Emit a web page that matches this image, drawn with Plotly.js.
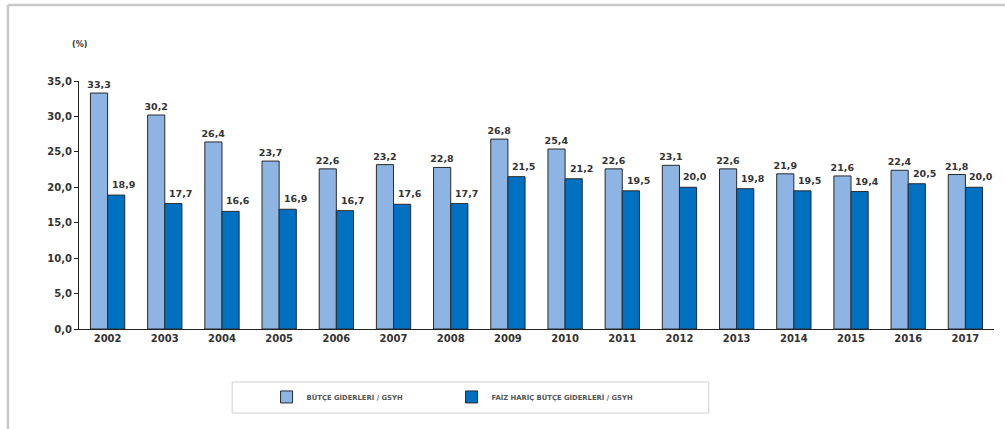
<!DOCTYPE html>
<html>
<head>
<meta charset="utf-8">
<script src="https://cdn.plot.ly/plotly-3.0.1.min.js"></script>
<style>html,body{margin:0;padding:0;background:#fff;}#chart{width:1005px;height:429px;}</style>
</head>
<body>
<div id="chart"></div>
<script>
const years = ['2002','2003','2004','2005','2006','2007','2008','2009','2010','2011','2012','2013','2014','2015','2016','2017'];
const butceGiderleri = [33.3,30.2,26.4,23.7,22.6,23.2,22.8,26.8,25.4,22.6,23.1,22.6,21.9,21.6,22.4,21.8];
const faizHaricGiderler = [18.9,17.7,16.6,16.9,16.7,17.6,17.7,21.5,21.2,19.5,20.0,19.8,19.5,19.4,20.5,20.0];
const seriesNames = ['BÜTÇE GİDERLERİ / GSYH','FAİZ HARİÇ BÜTÇE GİDERLERİ / GSYH'];
const yTicks = [0,5,10,15,20,25,30,35];

const fmt = v => v.toFixed(1).replace('.', ',');
const font = 'DejaVu Sans, Verdana, sans-serif';
const labelFont = {family: font, size: 9.5, color: '#333', weight: 'bold'};

const traces = [
  {type:'bar', name: seriesNames[0], x: years, y: butceGiderleri,
   marker:{color:'#8DB4E2', line:{color:'#2a2a2a', width:1}},
   text: butceGiderleri.map(fmt), textposition:'outside', constraintext:'none', textfont: labelFont, cliponaxis:false, hoverinfo:'x+y'},
  {type:'bar', name: seriesNames[1], x: years, y: faizHaricGiderler,
   marker:{color:'#0070C0', line:{color:'#2a2a2a', width:1}},
   hoverinfo:'x+y'}
];

// labels of the second series sit slightly to the right of their bars, as in the original
const darkLabels = years.map((yr, i) => ({
  x: i, y: faizHaricGiderler[i], xref:'x', yref:'y', text: fmt(faizHaricGiderler[i]),
  showarrow:false, xanchor:'center', yanchor:'bottom', xshift:16, yshift:3,
  font: labelFont
}));

const layout = {
  width:1005, height:429,
  margin:{l:79, r:11, t:81, b:100},
  paper_bgcolor:'#fff', plot_bgcolor:'#fff',
  barmode:'group', bargap:0.4, bargroupgap:0,
  separators:',.',
  showlegend:true,
  legend:{orientation:'h', x:0.205, y:-0.274, xanchor:'left', yanchor:'middle',
          font:{family:font, size:6.8, color:'#555', weight:'bold'},
          itemwidth:30, entrywidthmode:'pixels', entrywidth:140, bgcolor:'rgba(0,0,0,0)'},
  xaxis:{type:'category', categoryorder:'array', categoryarray: years, range:[-0.5, years.length-0.5],
         showline:true, linecolor:'#222', linewidth:1, ticks:'',
         tickfont:{family:font, size:10, color:'#333', weight:'bold'}, showgrid:false, zeroline:false},
  yaxis:{range:[0,35], tickvals:yTicks, ticktext:yTicks.map(fmt), showline:true, linecolor:'#222', linewidth:1,
         ticks:'outside', ticklen:4, tickcolor:'#222', showgrid:false, zeroline:false,
         tickfont:{family:font, size:10, color:'#333', weight:'bold'}},
  annotations:[{text:'(%)', xref:'paper', yref:'paper', x:(70-79)/914, y:(329-38)/248, showarrow:false,
    font:{family:font, size:8, color:'#333', weight:'bold'}}].concat(darkLabels),
  shapes:[
    {type:'rect', xref:'paper', yref:'paper', x0:(232-79)/914, x1:(708-79)/914, y0:(329-382)/248, y1:(329-413)/248,
     line:{color:'#cfcfcf', width:1}},
    {type:'line', xref:'paper', yref:'paper', x0:(8-79)/914, x1:(1005-79)/914, y0:(329-5)/248, y1:(329-5)/248,
     line:{color:'#c8c8c8', width:2.5}},
    {type:'line', xref:'paper', yref:'paper', x0:(8-79)/914, x1:(8-79)/914, y0:(329-5)/248, y1:(329-429)/248,
     line:{color:'#c8c8c8', width:2.5}}
  ]
};

Plotly.newPlot('chart', traces, layout, {displayModeBar:false, staticPlot:true});
</script>
</body>
</html>
